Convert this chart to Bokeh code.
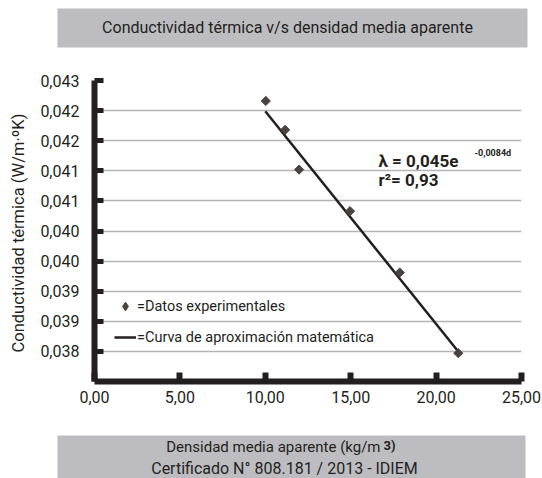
import numpy as np
from bokeh.plotting import figure
from bokeh.layouts import column
from bokeh.models import (Range1d, FixedTicker, CustomJSTickFormatter, Label,
                          Legend, LegendItem)
from bokeh.embed import file_html
from bokeh.resources import INLINE

# ---- data ----
density = [10.03, 11.16, 11.98, 14.96, 17.87, 21.30]
conductivity = [0.04216, 0.04168, 0.04102, 0.04033, 0.03931, 0.03797]
fit_density = [10.0, 21.32]
fit_conductivity = [0.04199, 0.03799]

x_ticks = [0, 5, 10, 15, 20, 25]
x_tick_labels = ["0,00", "5,00", "10,00", "15,00", "20,00", "25,00"]
y_ticks = [0.0380, 0.0385, 0.0390, 0.0395, 0.0400, 0.0405, 0.0410, 0.0415, 0.0420, 0.0425]
y_tick_labels = ["0,038", "0,039", "0,039", "0,040", "0,040", "0,041", "0,041", "0,042", "0,042", "0,043"]

title_text = "Conductividad térmica v/s densidad media aparente"
x_title_main = "Densidad media aparente (kg/m"
x_title_unit = "3)"
cert_text = "Certificado N° 808.181 / 2013 - IDIEM"
y_title = "Conductividad térmica  (W/m·ºK)"
eq_text = "λ = 0,045e"
eq_exp = "-0,0084d"
r2_text = "r²= 0,93"
legend_points = "=Datos experimentales"
legend_curve = "=Curva de aproximación matemática"

FONT = "Roboto"
DARK = "#231f20"
GRAY_BOX = "#bdbdc1"
POINT = "#4a4341"


def add_label(fig, text, x, y, size, style="normal", align="left", baseline="middle"):
    fig.add_layout(Label(text=text, x=x, y=y, x_units="screen", y_units="screen",
                         text_font=FONT, text_font_size=size, text_font_style=style,
                         text_color=DARK, text_align=align, text_baseline=baseline))


# ---------- title band ----------
top = figure(width=542, height=50, x_range=Range1d(0, 1), y_range=Range1d(0, 1),
             x_axis_type=None, y_axis_type=None, title=None,
             output_backend="svg", toolbar_location=None, frame_align=False,
             min_border_left=57, min_border_right=15, min_border_top=8, min_border_bottom=3,
             background_fill_color=GRAY_BOX, border_fill_color="white",
             outline_line_color=None)
top.grid.visible = False
add_label(top, title_text, 230, 20, "16px", align="center")

# ---------- main chart ----------
p = figure(width=542, height=385, title=None,
           x_range=Range1d(0, 25), y_range=Range1d(0.0375, 0.0425),
           output_backend="svg", toolbar_location=None, frame_align=False,
           min_border_left=94, min_border_right=21,
           min_border_top=30, min_border_bottom=54,
           outline_line_color=None, background_fill_color="white",
           border_fill_color="white")

lookup = ("let best = 0; let bd = Infinity;"
          "for (let i = 0; i < tv.length; i++) {"
          " const d = Math.abs(tv[i] - tick); if (d < bd) { bd = d; best = i; } }"
          "return tl[best];")

xa = p.xaxis[0]
xa.ticker = FixedTicker(ticks=x_ticks)
xa.formatter = CustomJSTickFormatter(args=dict(tv=x_ticks, tl=x_tick_labels), code=lookup)
xa.axis_line_color = DARK
xa.axis_line_width = 6
xa.major_tick_line_color = DARK
xa.major_tick_line_width = 6
xa.major_tick_in = 9
xa.major_tick_out = 0
xa.minor_tick_line_color = None
xa.major_label_standoff = 9
xa.major_label_text_font = FONT
xa.major_label_text_font_size = "16px"
xa.major_label_text_color = DARK

ya = p.yaxis[0]
ya.ticker = FixedTicker(ticks=y_ticks)
ya.formatter = CustomJSTickFormatter(args=dict(tv=y_ticks, tl=y_tick_labels), code=lookup)
ya.axis_line_color = DARK
ya.axis_line_width = 6
ya.major_tick_line_color = DARK
ya.major_tick_line_width = 5
ya.major_tick_in = 9
ya.major_tick_out = 0
ya.minor_tick_line_color = None
ya.major_label_standoff = 15
ya.major_label_text_font = FONT
ya.major_label_text_font_size = "16px"
ya.major_label_text_color = DARK
ya.axis_label = y_title
ya.axis_label_text_font = FONT
ya.axis_label_text_font_size = "16.5px"
ya.axis_label_text_font_style = "normal"
ya.axis_label_text_color = DARK
ya.axis_label_standoff = 9

p.xgrid.grid_line_color = None
p.ygrid.grid_line_color = "#b5b5b5"
p.ygrid.grid_line_width = 1.5

fit_r = p.line(fit_density, fit_conductivity, line_color=DARK, line_width=2.5)
pts_r = p.scatter(density, conductivity, marker="square", angle=np.pi / 4, size=6.5,
                  fill_color=POINT, line_color=POINT)
# diamond key for the legend (legend keys are never drawn rotated)
key_r = p.scatter(density, conductivity, marker="diamond", size=11,
                  fill_color=POINT, line_color=POINT, visible=False)

legend = Legend(items=[LegendItem(label=legend_points, renderers=[key_r]),
                       LegendItem(label=legend_curve, renderers=[fit_r])],
                location=(20, 32), padding=0, margin=0, spacing=7,
                glyph_width=22, glyph_height=24, label_height=24, label_standoff=1,
                label_text_font=FONT, label_text_font_size="14.5px",
                label_text_color=DARK, background_fill_alpha=0, border_line_alpha=0,
                inactive_fill_alpha=0)
p.add_layout(legend, "center")

add_label(p, eq_text, 284, 221, "17px", "bold")
add_label(p, eq_exp, 380, 229, "9px", "bold")
add_label(p, r2_text, 284, 202, "17px", "bold")

# ---------- footer band ----------
bottom = figure(width=542, height=43, x_range=Range1d(0, 1), y_range=Range1d(0, 1),
                x_axis_type=None, y_axis_type=None, title=None,
                output_backend="svg", toolbar_location=None, frame_align=False,
                min_border_left=57, min_border_right=17, min_border_top=0, min_border_bottom=0,
                background_fill_color=GRAY_BOX, border_fill_color="white",
                outline_line_color=None)
bottom.grid.visible = False
add_label(bottom, x_title_main, 323, 32, "15px", align="right")
add_label(bottom, x_title_unit, 326, 33, "13px", "bold")
add_label(bottom, cert_text, 227, 10, "16px", align="center")

layout = column(top, p, bottom, spacing=0)
open("out.html", "w").write(file_html(layout, INLINE))
